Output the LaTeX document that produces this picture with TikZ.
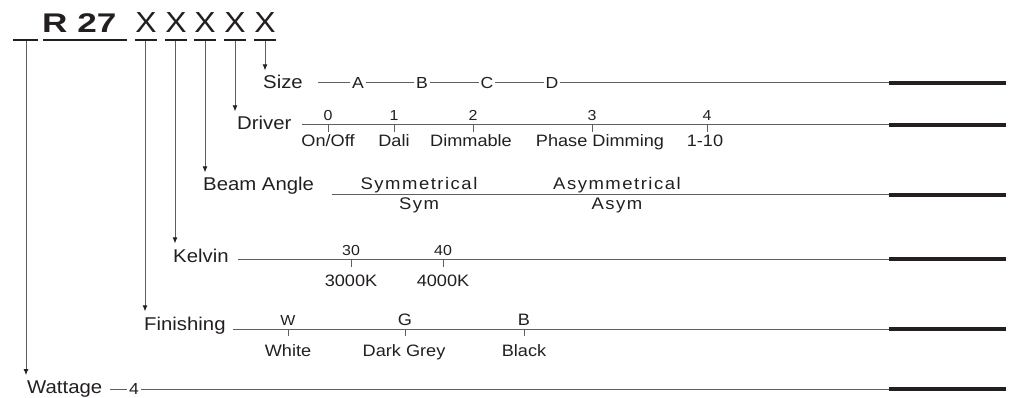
\documentclass[tikz,border=0pt]{standalone}
\usepackage{fontspec}
\setmainfont{Liberation Sans}[FakeStretch=1.1]
\usetikzlibrary{arrows.meta}
\definecolor{ink}{RGB}{35,31,32}
\definecolor{rulegrey}{RGB}{95,95,95}

\begin{document}
\begin{tikzpicture}[x=1pt,y=-1pt,every node/.style={text=ink},
  title/.style={inner sep=0pt,font=\bfseries\fontsize{27}{30}\selectfont\addfontfeature{FakeStretch=1.3}},
  digit/.style={inner sep=0pt,font=\fontsize{29}{30}\selectfont},
  lbl/.style={inner sep=0pt,font=\fontsize{18.5}{20}\selectfont},
  opt/.style={inner sep=0pt,font=\fontsize{16.5}{18}\selectfont},
  code/.style={inner sep=0pt,font=\fontsize{14.5}{16}\selectfont},
  letter/.style={fill=white,inner sep=2pt,font=\fontsize{16}{18}\selectfont},
  wide/.style={inner sep=0pt,font=\fontsize{16.8}{18}\selectfont\addfontfeature{LetterSpace=9}},
  uline/.style={line width=2pt,color=ink},
  pointer/.style={-{Latex[length=6pt,width=5pt,color=ink]},color=rulegrey,line width=0.9pt,shorten >=5pt},
  rowline/.style={line width=1pt,color=rulegrey},
  tick/.style={line width=1pt,color=rulegrey},
  bar/.style={line width=4pt,color=ink}]
\useasboundingbox (0,0) rectangle (1009,398);

% code line
\node[title,anchor=base west] (model) at (42,33) {R 27};
\node[digit,anchor=base] (x1) at (146,33) {X};
\node[digit,anchor=base] (x2) at (176,33) {X};
\node[digit,anchor=base] (x3) at (205,33) {X};
\node[digit,anchor=base] (x4) at (235,33) {X};
\node[digit,anchor=base] (x5) at (265,33) {X};
\draw[uline] (13,40) -- (38,40);
\draw[uline] (43,40) -- (127,40);
\foreach \x in {146,176,205,235,265}
  \draw[uline] (\x-11,40) -- (\x+11,40);
\coordinate (u0) at (26,41);
\coordinate (u1) at (145,41);
\coordinate (u2) at (175,41);
\coordinate (u3) at (205,41);
\coordinate (u4) at (235,41);
\coordinate (u5) at (265,41);

% row labels
\node[lbl,anchor=base west] (size) at (263,89) {Size};
\node[lbl,anchor=base west] (driver) at (237,130) {Driver};
\node[lbl,anchor=base west] (beam) at (203,191) {Beam Angle};
\node[lbl,anchor=base west] (kelvin) at (173,262) {Kelvin};
\node[lbl,anchor=base west] (finishing) at (144,330) {Finishing};
\node[lbl,anchor=base west] (wattage) at (27,393) {Wattage};

\draw[pointer] (u5) -- (u5 |- size.north);
\draw[pointer] (u4) -- (u4 |- driver.north);
\draw[pointer] (u3) -- (u3 |- beam.north);
\draw[pointer] (u2) -- (u2 |- kelvin.north);
\draw[pointer] (u1) -- (u1 |- finishing.north);
\draw[pointer] (u0) -- (u0 |- wattage.north);

% rows
\draw[rowline] (318,83) -- (889,83);
\draw[rowline] (302,125) -- (889,125);
\draw[rowline] (332,195) -- (889,195);
\draw[rowline] (238,259) -- (889,259);
\draw[rowline] (233,329) -- (889,329);
\draw[rowline] (110,389) -- (889,389);
\foreach \y in {83,125,195,259,329,389}
  \draw[bar] (889,\y) -- (1006,\y);

% size
\node[letter] (sa) at (358,83) {A};
\node[letter] (sb) at (422,83) {B};
\node[letter] (sc) at (487,83) {C};
\node[letter] (sd) at (552,83) {D};

% driver
\foreach \x in {328,394,473,592,707}
  \draw[tick] (\x,125) -- ++(0,7);
\node[code,anchor=base] (d0) at (328,121) {0};
\node[code,anchor=base] (d1) at (394,121) {1};
\node[code,anchor=base] (d2) at (473,121) {2};
\node[code,anchor=base] (d3) at (592,121) {3};
\node[code,anchor=base] (d4) at (707,121) {4};
\node[opt,anchor=base] (onoff) at (328,147) {On/Off};
\node[opt,anchor=base] (dali) at (394,147) {Dali};
\node[opt,anchor=base] (dimmable) at (471,147) {Dimmable};
\node[opt,anchor=base] (phase) at (600,147) {Phase Dimming};
\node[opt,anchor=base] (oneten) at (705,147) {1-10};

% beam angle
\node[wide,anchor=base] (symm) at (419,190) {Symmetrical};
\node[wide,anchor=base] (sym) at (419,210) {Sym};
\node[wide,anchor=base] (asymm) at (617,190) {Asymmetrical};
\node[wide,anchor=base] (asym) at (617,210) {Asym};

% kelvin
\foreach \x in {351,443}
  \draw[tick] (\x,259) -- ++(0,8);
\node[code,anchor=base] (k30) at (351,255) {30};
\node[code,anchor=base] (k40) at (443,255) {40};
\node[opt,anchor=base] (k3000) at (351,286) {3000K};
\node[opt,anchor=base] (k4000) at (443,286) {4000K};

% finishing
\foreach \x in {288,405,524}
  \draw[tick] (\x,329) -- ++(0,7);
\node[code,anchor=base] (fw) at (288,325) {W};
\node[opt,anchor=base] (fg) at (405,325) {G};
\node[opt,anchor=base] (fb) at (524,325) {B};
\node[opt,anchor=base] (white) at (288,356) {White};
\node[opt,anchor=base] (darkgrey) at (404,356) {Dark Grey};
\node[opt,anchor=base] (black) at (524,356) {Black};

% wattage
\node[letter] (w4) at (134,389) {4};
\end{tikzpicture}
\end{document}
